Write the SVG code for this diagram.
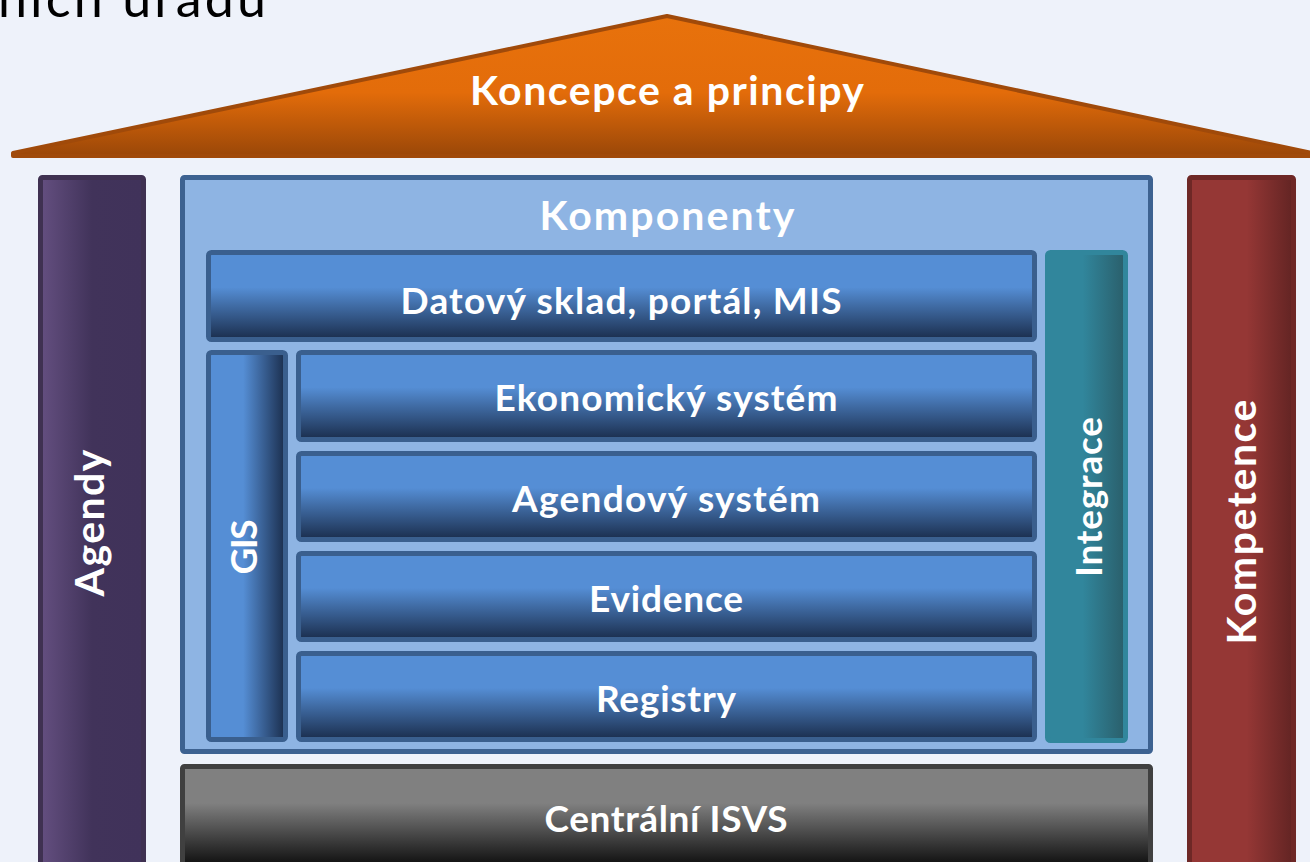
<svg xmlns="http://www.w3.org/2000/svg" width="1310" height="862" viewBox="0 0 1310 862">
  <defs>
    <linearGradient id="roofGrad" x1="0" y1="15" x2="0" y2="156" gradientUnits="userSpaceOnUse">
      <stop offset="0" stop-color="#E8720C"/>
      <stop offset="0.55" stop-color="#E36C0A"/>
      <stop offset="1" stop-color="#9A4708"/>
    </linearGradient>
    <linearGradient id="purpleGrad" x1="0" y1="0" x2="1" y2="0">
      <stop offset="0" stop-color="#644F80"/>
      <stop offset="0.5" stop-color="#41335A"/>
      <stop offset="1" stop-color="#40325A"/>
    </linearGradient>
    <linearGradient id="redGrad" x1="0" y1="0" x2="1" y2="0">
      <stop offset="0" stop-color="#953735"/>
      <stop offset="0.55" stop-color="#953735"/>
      <stop offset="1" stop-color="#622423"/>
    </linearGradient>
    <linearGradient id="tealGrad" x1="0" y1="0" x2="1" y2="0">
      <stop offset="0" stop-color="#31869C"/>
      <stop offset="0.45" stop-color="#31869C"/>
      <stop offset="1" stop-color="#2A5E6A"/>
    </linearGradient>
    <linearGradient id="blueV" x1="0" y1="0" x2="0" y2="1">
      <stop offset="0" stop-color="#558ED5"/>
      <stop offset="0.4" stop-color="#558ED5"/>
      <stop offset="1" stop-color="#1A2D4C"/>
    </linearGradient>
    <linearGradient id="blueH" x1="0" y1="0" x2="1" y2="0">
      <stop offset="0" stop-color="#558ED5"/>
      <stop offset="0.45" stop-color="#558ED5"/>
      <stop offset="1" stop-color="#1A2D4C"/>
    </linearGradient>
    <linearGradient id="grayV" x1="0" y1="764" x2="0" y2="862" gradientUnits="userSpaceOnUse">
      <stop offset="0" stop-color="#808080"/>
      <stop offset="0.4" stop-color="#808080"/>
      <stop offset="1" stop-color="#151515"/>
    </linearGradient>
    <style>
      .lbl { font-family: Lato, "Liberation Sans", sans-serif; font-weight: bold; fill: #FFFFFF; text-anchor: middle; }
      .big { font-size: 41px; }
      .mid { font-size: 37px; }
      .box { stroke: #3A5F8E; stroke-width: 5; }
    </style>
  </defs>

  <rect x="0" y="0" width="1310" height="862" fill="#EEF2FA"/>

  <text x="-2" y="17" font-family="Lato, 'Liberation Sans', sans-serif" font-size="52" fill="#000000" textLength="268">ních úřadů</text>

  <g id="roof">
    <polygon points="13,153 667,16 1312,153 1312,156 13,156" fill="url(#roofGrad)" stroke="#A04A0A" stroke-width="4" stroke-linejoin="round"/>
    <text class="lbl big" x="667" y="105" textLength="394">Koncepce a principy</text>
  </g>

  <g id="agendy">
    <rect x="40.5" y="177.5" width="103" height="700" rx="2" fill="url(#purpleGrad)" stroke="#3F3151" stroke-width="5"/>
    <text class="lbl big" transform="translate(104,523) rotate(-90)" x="0" y="0" textLength="147">Agendy</text>
  </g>

  <g id="kompetence">
    <rect x="1189.5" y="177.5" width="104" height="700" rx="2" fill="url(#redGrad)" stroke="#6E2826" stroke-width="5"/>
    <text class="lbl big" transform="translate(1256,522) rotate(-90)" x="0" y="0" textLength="245">Kompetence</text>
  </g>

  <g id="komponenty">
    <rect x="182.5" y="177.5" width="968" height="574" rx="2" fill="#8EB4E3" stroke="#3D6291" stroke-width="5"/>
    <text class="lbl big" x="667" y="230" textLength="255">Komponenty</text>
  </g>

  <g id="datovy-sklad">
    <rect class="box" x="208.5" y="252.5" width="826" height="87" rx="3" fill="url(#blueV)"/>
    <text class="lbl mid" x="621" y="314" textLength="441">Datový sklad, portál, MIS</text>
  </g>

  <g id="gis">
    <rect class="box" x="208.5" y="352.5" width="77" height="387" rx="3" fill="url(#blueH)"/>
    <text class="lbl mid" transform="translate(257,547) rotate(-90)" x="0" y="0" textLength="55">GIS</text>
  </g>

  <g id="ekonomicky-system">
    <rect class="box" x="298.5" y="352.5" width="736" height="87" rx="3" fill="url(#blueV)"/>
    <text class="lbl mid" x="666" y="411" textLength="343">Ekonomický systém</text>
  </g>

  <g id="agendovy-system">
    <rect class="box" x="298.5" y="453.5" width="736" height="86" rx="3" fill="url(#blueV)"/>
    <text class="lbl mid" x="666" y="512" textLength="308">Agendový systém</text>
  </g>

  <g id="evidence">
    <rect class="box" x="298.5" y="553.5" width="736" height="86" rx="3" fill="url(#blueV)"/>
    <text class="lbl mid" x="666" y="612" textLength="154">Evidence</text>
  </g>

  <g id="registry">
    <rect class="box" x="298.5" y="653.5" width="736" height="86" rx="3" fill="url(#blueV)"/>
    <text class="lbl mid" x="666" y="712" textLength="140">Registry</text>
  </g>

  <g id="integrace">
    <rect x="1047.5" y="252.5" width="78" height="488" rx="3" fill="url(#tealGrad)" stroke="#31869C" stroke-width="5"/>
    <text class="lbl mid" transform="translate(1102,497) rotate(-90)" x="0" y="0" textLength="160">Integrace</text>
  </g>

  <g id="centralni-isvs">
    <rect x="182.5" y="766.5" width="968" height="110" rx="2" fill="url(#grayV)" stroke="#404040" stroke-width="5"/>
    <text class="lbl mid" x="666" y="832" textLength="243">Centrální ISVS</text>
  </g>

  <g id="connectors"/>
</svg>
